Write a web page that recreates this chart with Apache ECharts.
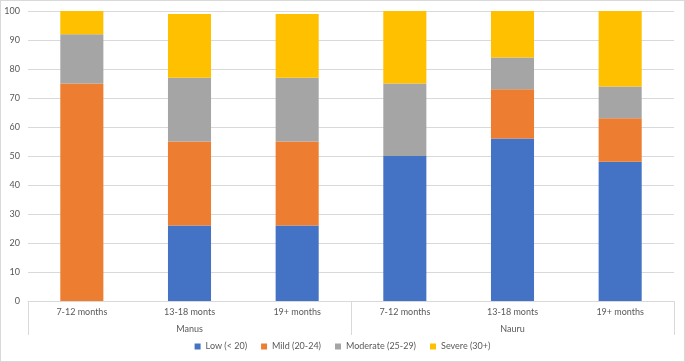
<!DOCTYPE html>
<html>
<head>
<meta charset="utf-8">
<script src="https://cdn.jsdelivr.net/npm/echarts@6/dist/echarts.min.js"></script>
<style>
  html, body { margin: 0; padding: 0; background: #fff; }
  #chart {
    width: 685px;
    height: 362px;
    box-sizing: border-box;
    border: 1px solid #d9d9d9;
  }
</style>
</head>
<body>
<div id="chart"></div>
<script>
// categories
const periods = ['7-12 months', '13-18 monts', '19+ months', '7-12 months', '13-18 monts', '19+ months']
const sites = ['Manus', 'Nauru']
const seriesNames = ['Low (< 20)', 'Mild (20-24)', 'Moderate (25-29)', 'Severe (30+)']

// values (% of group)
const lowVals = [0, 26, 26, 50, 56, 48]
const mildVals = [75, 29, 29, 0, 17, 15]
const moderateVals = [17, 22, 22, 25, 11, 11]
const severeVals = [8, 22, 22, 25, 16, 26]

const colors = ['#4472C4', '#ED7D31', '#A5A5A5', '#FFC000']
const labelColor = '#595959'
const lineColor = '#d9d9d9'
const font = 'Lato, "Open Sans", sans-serif'

const chart = echarts.init(document.getElementById('chart'))

const allVals = [lowVals, mildVals, moderateVals, severeVals]

chart.setOption({
  animation: false,
  textStyle: { fontFamily: font },
  grid: { left: 27, right: 10, top: 10, bottom: 60 },
  legend: {
    bottom: 5,
    left: 'center',
    icon: 'rect',
    itemWidth: 6,
    itemHeight: 6,
    itemGap: 14,
    textStyle: { color: labelColor, fontSize: 9, fontFamily: font },
    data: seriesNames,
  },
  xAxis: [
    {
      type: 'category',
      data: periods,
      axisLine: { lineStyle: { color: lineColor } },
      axisTick: { show: false },
      axisLabel: { color: labelColor, fontSize: 9, margin: 7, interval: 0 },
    },
    {
      type: 'category',
      data: sites,
      position: 'bottom',
      axisLine: { show: false },
      axisTick: { show: true, length: 34, lineStyle: { color: lineColor } },
      axisLabel: { color: labelColor, fontSize: 9, margin: 24 },
    },
  ],
  yAxis: {
    type: 'value',
    min: 0,
    max: 100,
    interval: 10,
    axisLine: { show: false },
    axisTick: { show: false },
    axisLabel: { color: labelColor, fontSize: 9, margin: 8 },
    splitLine: { lineStyle: { color: lineColor } },
  },
  series: seriesNames.map((name, i) => ({
    name,
    type: 'bar',
    stack: 'total',
    xAxisIndex: 0,
    barWidth: '40%',
    data: allVals[i],
    itemStyle: { color: colors[i] },
  })),
})
</script>
</body>
</html>
